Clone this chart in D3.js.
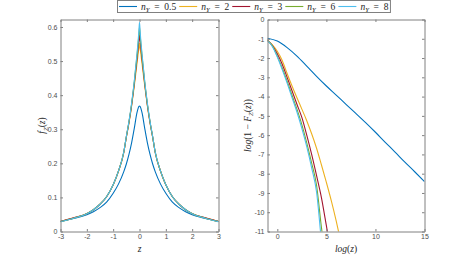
<!DOCTYPE html>
<html>
<head>
<meta charset="utf-8">
<script src="https://cdn.jsdelivr.net/npm/d3@7"></script>
<style>
    body { margin: 0; background: #fff; }
    svg { display: block; }
    .tick text { font-family: "Liberation Sans", Arial, sans-serif; font-size: 7px; fill: #4d4d4d; }
    .tex { font-family: "Liberation Serif", "Times New Roman", serif; fill: #262626; }
</style>
</head>
<body>
<div id="chart"></div>
<script>
    // Series labels and colours (MATLAB default order as used in the figure)
    var seriesNames = ['0.5', '2', '3', '6', '8'];
    var seriesColors = ['#0072BD', '#EDB120', '#A2142F', '#77AC30', '#4DBEEE'];

    // Left panel: density f_Z(z)
    var zValues = [-3, -2.5, -2, -1.75, -1.5, -1.25, -1, -0.8, -0.6, -0.5, -0.4, -0.3, -0.2, -0.1, -0.05, -0.02,
        0, 0.02, 0.05, 0.1, 0.2, 0.3, 0.4, 0.5, 0.6, 0.8, 1, 1.25, 1.5, 1.75, 2, 2.5, 3];
    var densityN05 = [0.030, 0.038, 0.049, 0.058, 0.070, 0.086, 0.112, 0.139, 0.175, 0.198, 0.226, 0.260, 0.302, 0.347, 0.362, 0.367,
        0.368, 0.367, 0.362, 0.347, 0.302, 0.260, 0.226, 0.198, 0.175, 0.139, 0.112, 0.086, 0.070, 0.058, 0.049, 0.038, 0.030];
    var densityN2 = [0.030, 0.040, 0.053, 0.064, 0.080, 0.102, 0.136, 0.176, 0.230, 0.276, 0.318, 0.368, 0.426, 0.490, 0.522, 0.540,
        0.552, 0.540, 0.522, 0.490, 0.426, 0.368, 0.318, 0.276, 0.230, 0.176, 0.136, 0.102, 0.080, 0.064, 0.053, 0.040, 0.030];
    var densityN3 = [0.029, 0.040, 0.052, 0.064, 0.080, 0.102, 0.137, 0.177, 0.231, 0.277, 0.320, 0.371, 0.432, 0.503, 0.540, 0.563,
        0.578, 0.563, 0.540, 0.503, 0.432, 0.371, 0.320, 0.277, 0.231, 0.177, 0.137, 0.102, 0.080, 0.064, 0.052, 0.040, 0.029];
    var densityN6 = [0.029, 0.039, 0.052, 0.064, 0.080, 0.102, 0.137, 0.177, 0.232, 0.278, 0.322, 0.374, 0.437, 0.512, 0.553, 0.581,
        0.600, 0.581, 0.553, 0.512, 0.437, 0.374, 0.322, 0.278, 0.232, 0.177, 0.137, 0.102, 0.080, 0.064, 0.052, 0.039, 0.029];
    var densityN8 = [0.029, 0.039, 0.052, 0.064, 0.080, 0.102, 0.137, 0.177, 0.232, 0.279, 0.323, 0.376, 0.440, 0.518, 0.561, 0.592,
        0.614, 0.592, 0.561, 0.518, 0.440, 0.376, 0.323, 0.279, 0.232, 0.177, 0.137, 0.102, 0.080, 0.064, 0.052, 0.039, 0.029];

    // Right panel: log(1 - F_Z(z)) against log(z)
    var logZWide = [-1, 0, 1, 2, 3, 4, 5, 6, 7, 8, 9, 10, 11, 12, 13, 14, 15];
    var tailN05 = [-0.97, -1.12, -1.46, -1.90, -2.42, -2.95, -3.45, -3.92, -4.40, -4.87, -5.35, -5.85, -6.37, -6.88, -7.40, -7.90, -8.41];
    var logZNarrow = [-1, -0.5, 0, 0.5, 1, 1.5, 2, 2.5, 3, 3.5, 4, 4.5, 5, 5.5, 6, 6.5];
    var tailN2 = [-1.07, -1.32, -1.65, -2.13, -2.80, -3.45, -4.06, -4.65, -5.25, -5.93, -6.68, -7.55, -8.45, -9.40, -10.45, -11.60];
    var tailN3 = [-1.08, -1.35, -1.78, -2.32, -3.00, -3.70, -4.40, -5.08, -6.00, -7.00, -8.10, -9.25, -10.70, -12.20];
    var tailN6 = [-1.09, -1.38, -1.90, -2.52, -3.20, -3.93, -4.65, -5.45, -6.40, -7.45, -8.60, -10.80, -12.60];
    var tailN8 = [-1.10, -1.40, -1.95, -2.60, -3.30, -4.05, -4.80, -5.65, -6.60, -7.70, -8.95, -11.50, -13.60];

    // Tick values
    var leftXTicks = [-3, -2, -1, 0, 1, 2, 3];
    var leftYTicks = [0, 0.1, 0.2, 0.3, 0.4, 0.5, 0.6];
    var rightXTicks = [0, 5, 10, 15];
    var rightYTicks = [0, -1, -2, -3, -4, -5, -6, -7, -8, -9, -10, -11];

    var width = 469,
        height = 261,
        axisColor = '#808080',
        texSize = 9.5;

    var svg = d3.select('#chart').append('svg')
        .attr('width', width)
        .attr('height', height);

    // Append a run of LaTeX-like pieces: {t: text, i: italic, s: subscript}
    function texText(sel, parts, size) {
        var shift = 0;
        parts.forEach(function(p) {
            var ts = sel.append('tspan').text(p.t);
            if (p.i) { ts.attr('font-style', 'italic'); }
            var target = p.s ? size * 0.28 : 0;
            if (target !== shift) { ts.attr('dy', target - shift); shift = target; }
            if (p.s) { ts.attr('font-size', size * 0.7); }
        });
        return sel;
    }

    function panel(opts) {
        var x = d3.scaleLinear().domain(opts.xDomain).range([opts.left, opts.right]),
            y = d3.scaleLinear().domain(opts.yDomain).range([opts.bottom, opts.top]);

        var g = svg.append('g');

        // Clipping path for the plot area
        g.append('clipPath')
            .attr('id', opts.id)
            .append('rect')
            .attr('x', opts.left).attr('y', opts.top)
            .attr('width', opts.right - opts.left)
            .attr('height', opts.bottom - opts.top);

        var plot = g.append('g').attr('clip-path', 'url(#' + opts.id + ')');

        var line = d3.line()
            .x(function(d) { return x(d[0]); })
            .y(function(d) { return y(d[1]); })
            .curve(d3.curveMonotoneX);

        opts.series.forEach(function(s, i) {
            var pts = s.values.map(function(v, k) { return [s.xs[k], v]; });
            plot.append('path')
                .datum(pts)
                .attr('d', line)
                .attr('fill', 'none')
                .attr('stroke', seriesColors[i])
                .attr('stroke-width', 1.1);
        });

        var fmt = function(d) { return String(d); };

        // Axes: labelled bottom/left, mirrored ticks on top/right (box on)
        var axes = [
            g.append('g').attr('transform', 'translate(0,' + opts.bottom + ')')
                .call(d3.axisBottom(x).tickValues(opts.xTicks).tickSize(-2.5).tickSizeOuter(0).tickPadding(3).tickFormat(fmt)),
            g.append('g').attr('transform', 'translate(0,' + opts.top + ')')
                .call(d3.axisTop(x).tickValues(opts.xTicks).tickSize(-2.5).tickSizeOuter(0).tickFormat('')),
            g.append('g').attr('transform', 'translate(' + opts.left + ',0)')
                .call(d3.axisLeft(y).tickValues(opts.yTicks).tickSize(-2.5).tickSizeOuter(0).tickPadding(3).tickFormat(fmt)),
            g.append('g').attr('transform', 'translate(' + opts.right + ',0)')
                .call(d3.axisRight(y).tickValues(opts.yTicks).tickSize(-2.5).tickSizeOuter(0).tickFormat(''))
        ];
        axes.forEach(function(a) {
            a.select('.domain').attr('stroke', axisColor);
            a.selectAll('.tick line').attr('stroke', axisColor);
        });

        // Axis titles
        texText(g.append('text').attr('class', 'tex')
            .attr('x', (opts.left + opts.right) / 2).attr('y', 251.5)
            .attr('text-anchor', 'middle').attr('font-size', texSize), opts.xLabel, texSize);

        texText(g.append('text').attr('class', 'tex')
            .attr('transform', 'translate(' + opts.yLabelX + ',' + (opts.top + opts.bottom) / 2 + ') rotate(-90)')
            .attr('text-anchor', 'middle').attr('font-size', texSize), opts.yLabel, texSize);
    }

    panel({
        id: 'clipLeft',
        left: 60.5, right: 218.5, top: 19.5, bottom: 231.5,
        xDomain: [-3, 3], yDomain: [0, 0.622],
        xTicks: leftXTicks, yTicks: leftYTicks,
        series: [
            {xs: zValues, values: densityN05},
            {xs: zValues, values: densityN2},
            {xs: zValues, values: densityN3},
            {xs: zValues, values: densityN6},
            {xs: zValues, values: densityN8}
        ],
        xLabel: [{t: 'z', i: true}],
        yLabel: [{t: 'f', i: true}, {t: 'Z', i: true, s: true}, {t: '('}, {t: 'z', i: true}, {t: ')'}],
        yLabelX: 45
    });

    panel({
        id: 'clipRight',
        left: 267.5, right: 424.5, top: 19.5, bottom: 231.5,
        xDomain: [-1, 15], yDomain: [-11, 0],
        xTicks: rightXTicks, yTicks: rightYTicks,
        series: [
            {xs: logZWide, values: tailN05},
            {xs: logZNarrow, values: tailN2},
            {xs: logZNarrow, values: tailN3},
            {xs: logZNarrow, values: tailN6},
            {xs: logZNarrow, values: tailN8}
        ],
        xLabel: [{t: 'log', i: true}, {t: '('}, {t: 'z', i: true}, {t: ')'}],
        yLabel: [{t: 'log', i: true}, {t: '(1 \u2212 '}, {t: 'F', i: true}, {t: 'Z', i: true, s: true},
            {t: '('}, {t: 'z', i: true}, {t: '))'}],
        yLabelX: 250.5
    });

    // Legend across the top
    var legend = svg.append('g');
    var legendBox = legend.append('rect')
        .attr('y', 0.5).attr('height', 12)
        .attr('fill', '#fff').attr('stroke', axisColor);

    var cursor = 119;
    seriesNames.forEach(function(name, i) {
        legend.append('line')
            .attr('x1', cursor).attr('x2', cursor + 18)
            .attr('y1', 6.5).attr('y2', 6.5)
            .attr('stroke', seriesColors[i]).attr('stroke-width', 1.1);
        var label = texText(legend.append('text').attr('class', 'tex')
            .attr('x', cursor + 22).attr('y', 9.8).attr('font-size', texSize),
            [{t: 'n', i: true}, {t: 'Y', i: true, s: true}, {t: '\u2002=\u2002' + name}], texSize);
        cursor += 22 + label.node().getComputedTextLength() + 3;
    });
    legendBox.attr('x', 117.5).attr('width', cursor - 117.5 - 1);
</script>
</body>
</html>
